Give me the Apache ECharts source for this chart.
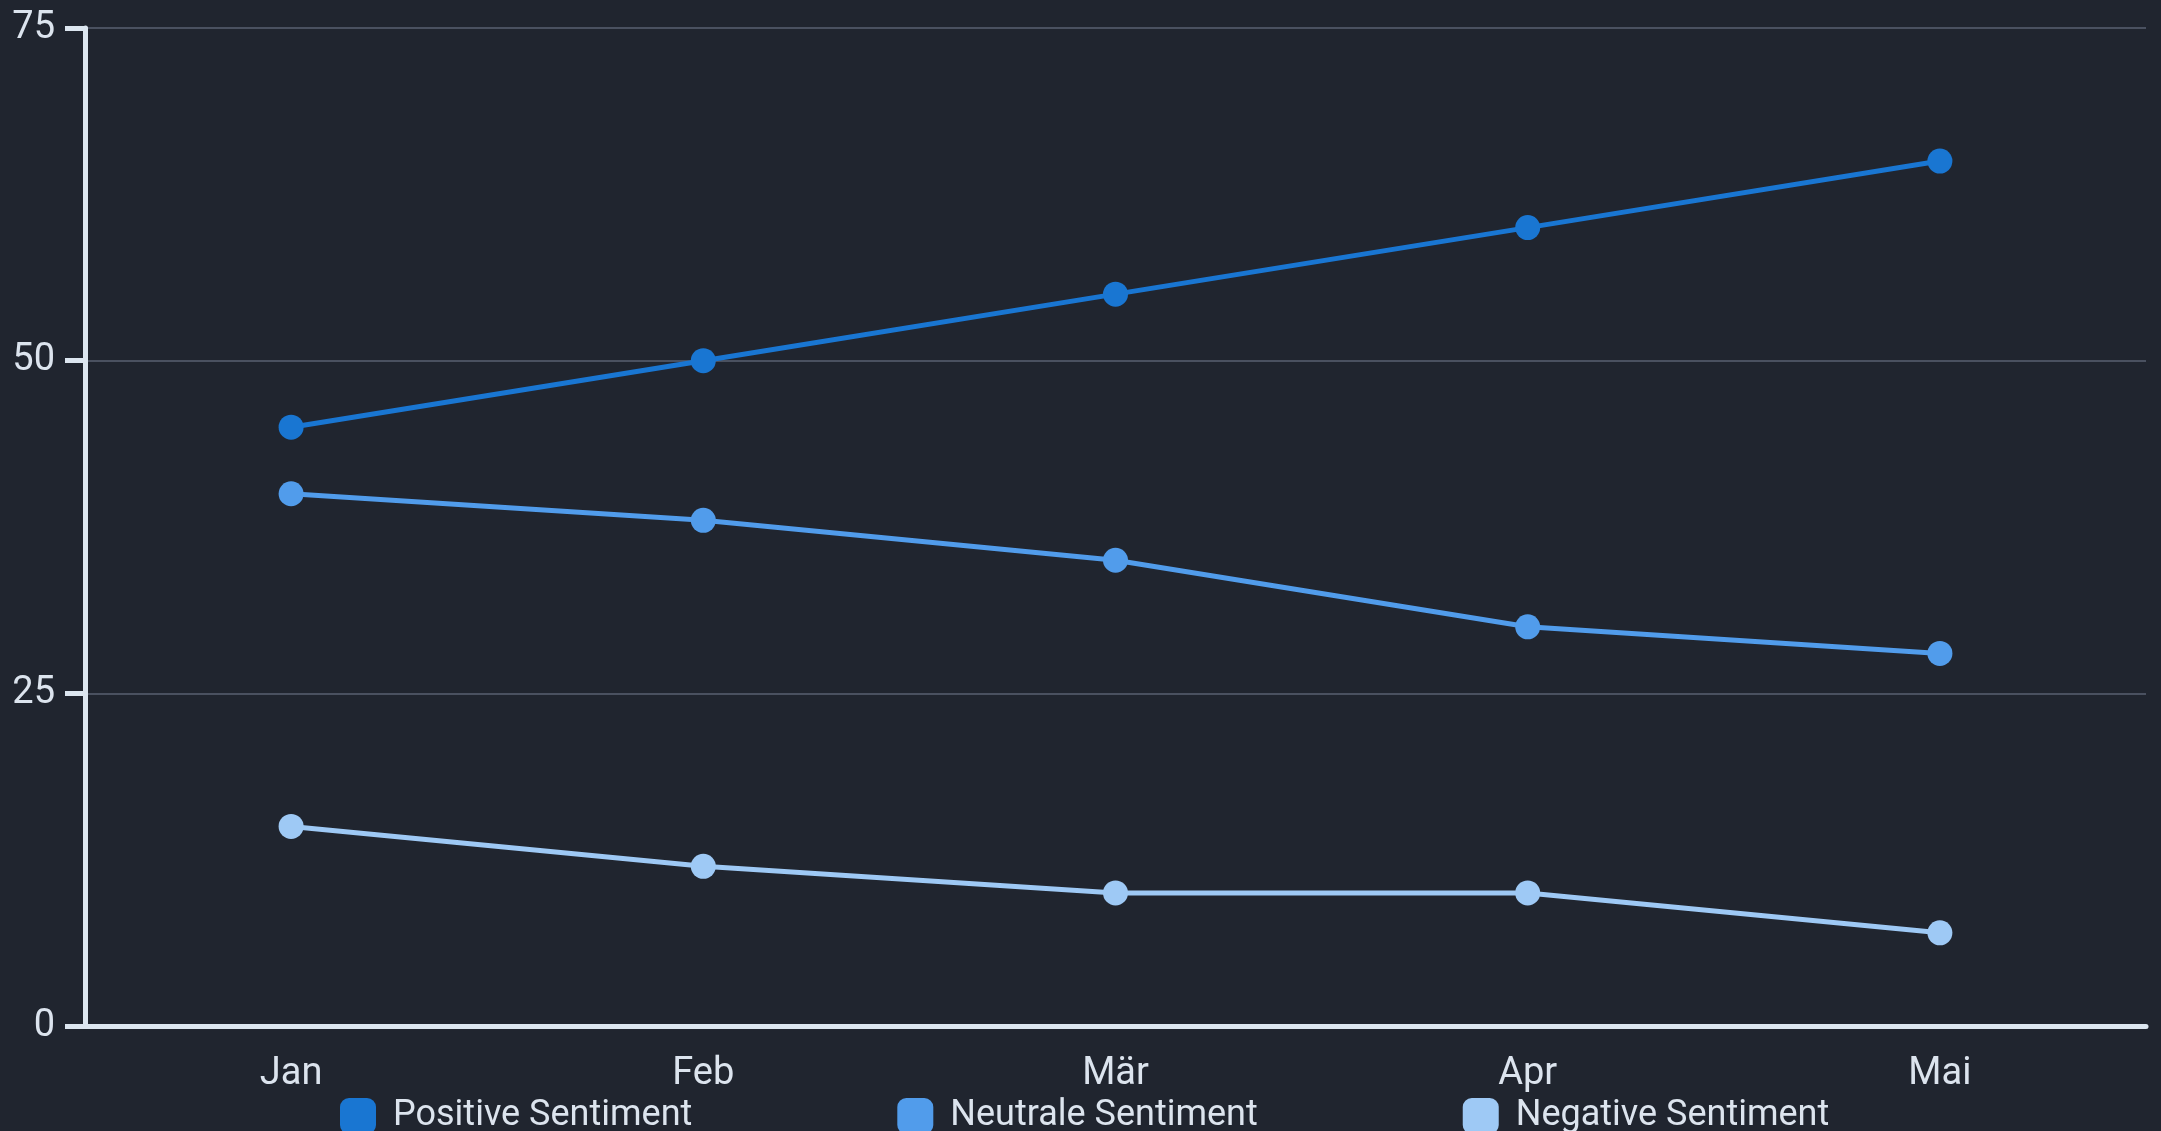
<!DOCTYPE html>
<html>
<head>
<meta charset="utf-8">
<script src="https://cdn.jsdelivr.net/npm/echarts@6/dist/echarts.min.js"></script>
<style>
  html, body { margin: 0; padding: 0; background: #20252f; }
  #chart { width: 2161px; height: 1131px; }
</style>
</head>
<body>
<div id="chart"></div>
<script>
// Monthly sentiment shares
const months = ['Jan', 'Feb', 'Mär', 'Apr', 'Mai'];
const positive = [45, 50, 55, 60, 65];
const neutral = [40, 38, 35, 30, 28];
const negative = [15, 12, 10, 10, 7];
const seriesNames = ['Positive Sentiment', 'Neutrale Sentiment', 'Negative Sentiment'];
const colors = ['#1976d2', '#519ceb', '#9ec9f5'];

const axisColor = '#dce6f0';
const textColor = '#dce4ee';
const font = 'Roboto';

function lineSeries(name, data, color) {
  return {
    name: name,
    type: 'line',
    data: data,
    symbol: 'circle',
    symbolSize: 25,
    lineStyle: { width: 5, color: color },
    itemStyle: { color: color },
    emphasis: { disabled: true }
  };
}

const chart = echarts.init(document.getElementById('chart'));
chart.setOption({
  backgroundColor: '#20252f',
  animation: false,
  grid: { left: 85, right: 15, top: 28, bottom: 105 },
  legend: {
    bottom: -3,
    left: 340,
    padding: 0,
    itemWidth: 36,
    itemHeight: 36,
    itemGap: 205,
    icon: 'roundRect',
    textStyle: { color: textColor, fontSize: 36, fontFamily: font, padding: [0, 0, 0, 12] },
    data: seriesNames
  },
  xAxis: {
    type: 'category',
    data: months,
    boundaryGap: true,
    axisLine: { lineStyle: { color: axisColor, width: 5 } },
    axisTick: { alignWithLabel: true, length: 20, lineStyle: { color: axisColor, width: 5 } },
    axisLabel: { color: textColor, fontSize: 38, fontFamily: font, margin: 29 }
  },
  yAxis: {
    type: 'value',
    min: 0,
    max: 75,
    interval: 25,
    axisLine: { show: true, lineStyle: { color: axisColor, width: 5 } },
    axisTick: { show: true, length: 20, lineStyle: { color: axisColor, width: 5 } },
    axisLabel: { color: textColor, fontSize: 38, fontFamily: font, margin: 30 },
    splitLine: { lineStyle: { color: '#4a5160', width: 2 } }
  },
  series: [
    lineSeries(seriesNames[0], positive, colors[0]),
    lineSeries(seriesNames[1], neutral, colors[1]),
    lineSeries(seriesNames[2], negative, colors[2])
  ]
});
</script>
</body>
</html>
